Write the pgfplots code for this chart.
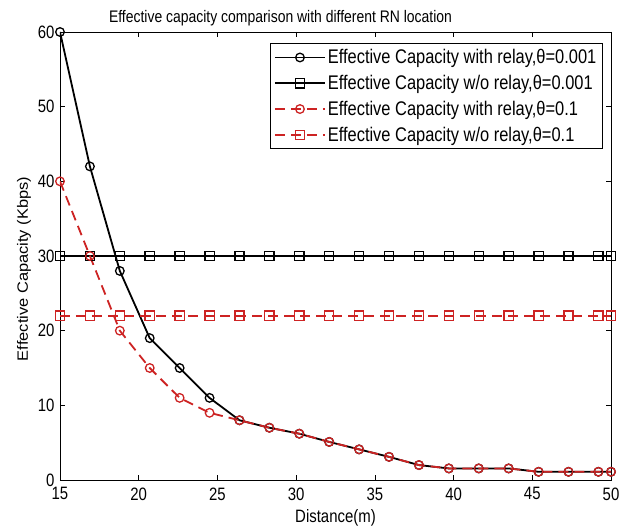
\documentclass[border=0pt]{standalone}
\usepackage{pgfplots}
\pgfplotsset{compat=1.18}
\usepackage{fontspec}
\setmainfont{Liberation Sans}
\definecolor{myred}{RGB}{205,35,35}
\newcommand\vs[1]{\scalebox{1}[1.2]{#1}}
\pgfplotstableread{
x     a    b    c    d
15    60   30   40   22
16.9  42   30   30   22
18.8  28   30   20   22
20.7  19   30   15   22
22.6  15   30   11   22
24.5  11   30   9    22
26.4  8    30   8    22
28.3  7    30   7    22
30.2  6.2  30   6.2  22
32.1  5.1  30   5.1  22
34.0  4.1  30   4.1  22
35.9  3.1  30   3.1  22
37.8  2    30   2    22
39.7  1.55 30   1.55 22
41.6  1.55 30   1.55 22
43.5  1.55 30   1.55 22
45.4  1.1  30   1.1  22
47.3  1.1  30   1.1  22
49.2  1.1  30   1.1  22
50    1.1  30   1.1  22
}\datatable
\begin{document}
\begin{tikzpicture}
\begin{axis}[
  width=551bp, height=448bp, scale only axis,
  xmin=15, xmax=50, ymin=0, ymax=60,
  xtick={15,20,...,50}, ytick={0,10,...,60},
  tick align=inside,
  major tick length=5bp,
  font=\fontsize{15}{17}\selectfont,
  xticklabel={\vs{\pgfmathprintnumber[assume math mode=true]{\tick}}},
  yticklabel={\vs{\pgfmathprintnumber[assume math mode=true]{\tick}}},
  xticklabel style={font=\fontsize{15}{17}\selectfont, yshift=-4bp},
  yticklabel style={font=\fontsize{15}{17}\selectfont, xshift=-2bp},
  title={\fontsize{14}{16}\selectfont\vs{Effective capacity comparison with different RN location}},
  title style={yshift=-3bp, xshift=-55bp},
  xlabel={\vs{Distance(m)}},
  ylabel={\scalebox{1.1}[1]{Effective Capacity (Kbps)}},
  xlabel style={yshift=-2bp},
  ylabel style={xshift=-13bp},
  axis line style={line width=0.8bp},
  every tick/.style={black, line width=0.6bp},
  legend cell align=left,
  legend style={at={(rel axis cs:0.985,0.975)}, anchor=north east,
    draw=black, line width=0.8bp, row sep=6bp, inner sep=4bp,
    font=\fontsize{16.5}{18}\selectfont},
  legend image code/.code={\draw[mark repeat=2,mark phase=2] plot coordinates {(6bp,0bp) (31bp,0bp) (56bp,0bp)};},
]
\addplot[black, line width=1.8bp, mark=o, mark size=4.3bp, mark options={solid, line width=1.3bp}] table[x=x,y=a] {\datatable};
\addlegendentry{\vs{Effective Capacity with relay,θ=0.001}}
\addplot[black, line width=1.8bp, mark=square, mark size=4.6bp, mark options={solid, line width=1.3bp}] table[x=x,y=b] {\datatable};
\addlegendentry{\vs{Effective Capacity w/o relay,θ=0.001}}
\addplot[myred, line width=1.8bp, dash pattern=on 10bp off 6bp, mark=o, mark size=4.3bp, mark options={solid, line width=1.3bp}] table[x=x,y=c] {\datatable};
\addlegendentry{\vs{Effective Capacity with relay,θ=0.1}}
\addplot[myred, line width=1.8bp, dash pattern=on 10bp off 6bp, mark=square, mark size=4.6bp, mark options={solid, line width=1.3bp}] table[x=x,y=d] {\datatable};
\addlegendentry{\vs{Effective Capacity w/o relay,θ=0.1}}
\end{axis}
\pgfresetboundingbox
\path ([shift={(-60bp,-49bp)}]current axis.south west) rectangle ([shift={(10bp,32bp)}]current axis.north east);
\end{tikzpicture}
\end{document}
